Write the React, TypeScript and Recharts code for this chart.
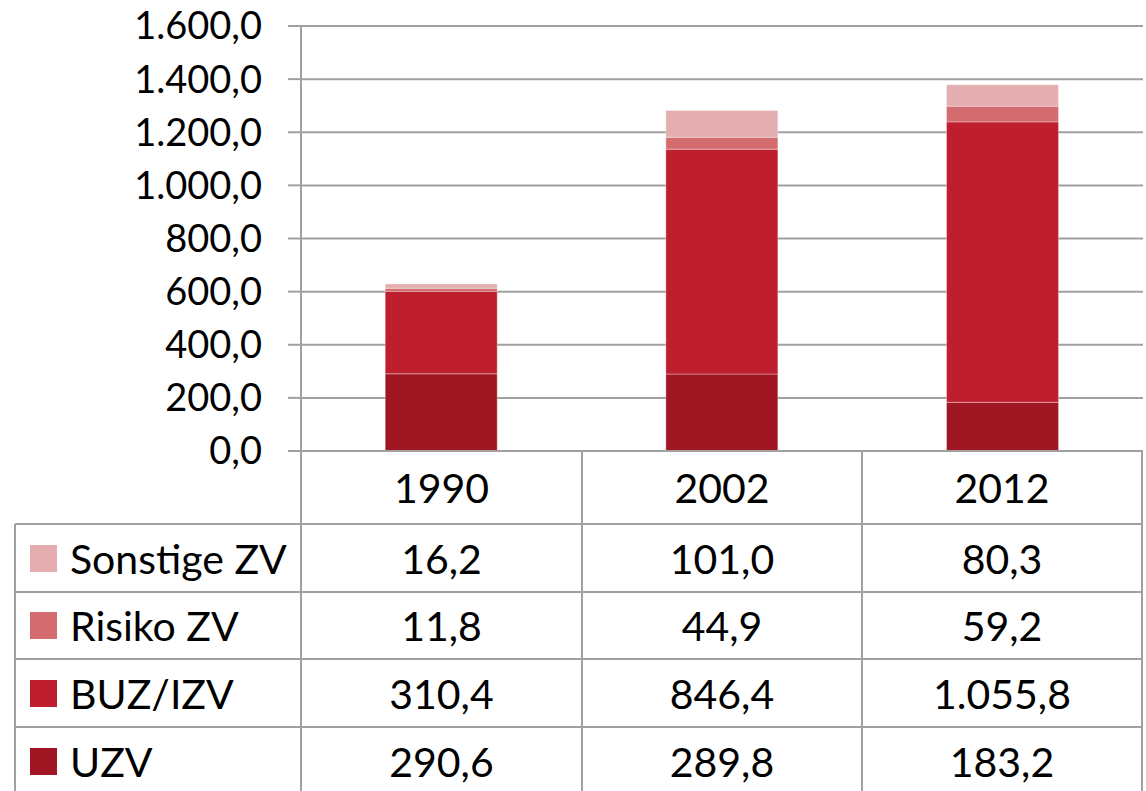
import React from "react";
import { BarChart, Bar, XAxis, YAxis, CartesianGrid } from "recharts";

// Zahlungen nach Art (Werte aus der Tabelle)
const years = ["1990", "2002", "2012"];
const uzv = [290.6, 289.8, 183.2];
const buzIzv = [310.4, 846.4, 1055.8];
const risikoZv = [11.8, 44.9, 59.2];
const sonstigeZv = [16.2, 101.0, 80.3];
const yTicks = [0, 200, 400, 600, 800, 1000, 1200, 1400, 1600];

const series = [
  { key: "sonstige", name: "Sonstige ZV", values: sonstigeZv, color: "#e4aeb0" },
  { key: "risiko", name: "Risiko ZV", values: risikoZv, color: "#d46b6f" },
  { key: "buz", name: "BUZ/IZV", values: buzIzv, color: "#be1e2d" },
  { key: "uzv", name: "UZV", values: uzv, color: "#a01622" },
];

const chartData = years.map((year, i) => ({
  year,
  uzv: uzv[i],
  buz: buzIzv[i],
  risiko: risikoZv[i],
  sonstige: sonstigeZv[i],
}));

// German number format: 1.600,0
function fmt(v: number) {
  const [int, dec] = v.toFixed(1).split(".");
  return int.replace(/\B(?=(\d{3})+(?!\d))/g, ".") + "," + dec;
}

const FONT = "Lato, 'Open Sans', sans-serif";
const FS = 38;
const TABLE_FS = 41;
const GRID = "#a0a0a0";

// table geometry
const colX = [15, 301, 582, 862, 1142];
const rowY = [451, 524, 592, 659, 727, 795];

export default function App() {
  const lines: React.ReactNode[] = [];
  // horizontal rules of the table body
  for (let r = 1; r < rowY.length - 1; r++) {
    lines.push(
      <div key={"h" + r} style={{ position: "absolute", left: colX[0], top: rowY[r] - 1, width: colX[4] - colX[0] + 1, height: 2, background: GRID }} />
    );
  }
  // vertical rules
  colX.forEach((x, c) => {
    const top = c === 0 ? rowY[1] : rowY[0];
    lines.push(
      <div key={"v" + c} style={{ position: "absolute", left: x - 1, top, width: 2, height: 791 - top, background: GRID }} />
    );
  });

  const cells: React.ReactNode[] = [];
  years.forEach((y, c) => {
    cells.push(
      <div key={"y" + c} style={{ position: "absolute", left: colX[c + 1], top: rowY[0], width: colX[c + 2] - colX[c + 1], height: rowY[1] - rowY[0], display: "flex", alignItems: "center", justifyContent: "center" }}>
        {y}
      </div>
    );
  });
  series.forEach((s, r) => {
    const top = rowY[r + 1];
    const h = rowY[r + 2] - rowY[r + 1];
    cells.push(
      <div key={"l" + r} style={{ position: "absolute", left: colX[0], top, width: colX[1] - colX[0], height: h, display: "flex", alignItems: "center", whiteSpace: "nowrap" }}>
        <span style={{ display: "inline-block", width: 27, height: 27, background: s.color, marginLeft: 15, marginRight: 13 }} />
        {s.name}
      </div>
    );
    s.values.forEach((v, c) => {
      cells.push(
        <div key={"c" + r + c} style={{ position: "absolute", left: colX[c + 1], top, width: colX[c + 2] - colX[c + 1], height: h, display: "flex", alignItems: "center", justifyContent: "center" }}>
          {fmt(v)}
        </div>
      );
    });
  });

  return (
    <div style={{ position: "absolute", left: 0, top: 0, width: 1146, height: 791, overflow: "hidden", background: "#fff", fontFamily: FONT, fontSize: TABLE_FS, color: "#000" }}>
      <BarChart
        width={1146}
        height={490}
        data={chartData}
        margin={{ top: 26, right: 3, bottom: 39, left: 0 }}
        barCategoryGap="30%"
      >
        <CartesianGrid horizontal vertical={false} stroke={GRID} strokeWidth={2} />
        <XAxis dataKey="year" hide />
        <YAxis
          width={301}
          domain={[0, 1600]}
          ticks={yTicks}
          interval={0}
          tickFormatter={fmt}
          tickSize={13}
          tickMargin={26}
          axisLine={{ stroke: GRID, strokeWidth: 2 }}
          tickLine={{ stroke: GRID, strokeWidth: 2 }}
          tick={{ fill: "#000", fontSize: FS, fontFamily: FONT }}
        />
        <Bar dataKey="uzv" stackId="a" fill="#a01622" stroke="rgba(255,255,255,0.35)" strokeWidth={1} isAnimationActive={false} />
        <Bar dataKey="buz" stackId="a" fill="#be1e2d" stroke="rgba(255,255,255,0.35)" strokeWidth={1} isAnimationActive={false} />
        <Bar dataKey="risiko" stackId="a" fill="#d46b6f" stroke="rgba(255,255,255,0.35)" strokeWidth={1} isAnimationActive={false} />
        <Bar dataKey="sonstige" stackId="a" fill="#e4aeb0" stroke="rgba(255,255,255,0.35)" strokeWidth={1} isAnimationActive={false} />
      </BarChart>
      {/* x axis line across the plot bottom */}
      <div style={{ position: "absolute", left: 288, top: rowY[0] - 1, width: 1143 - 288, height: 2, background: GRID }} />
      {lines}
      {cells}
    </div>
  );
}
